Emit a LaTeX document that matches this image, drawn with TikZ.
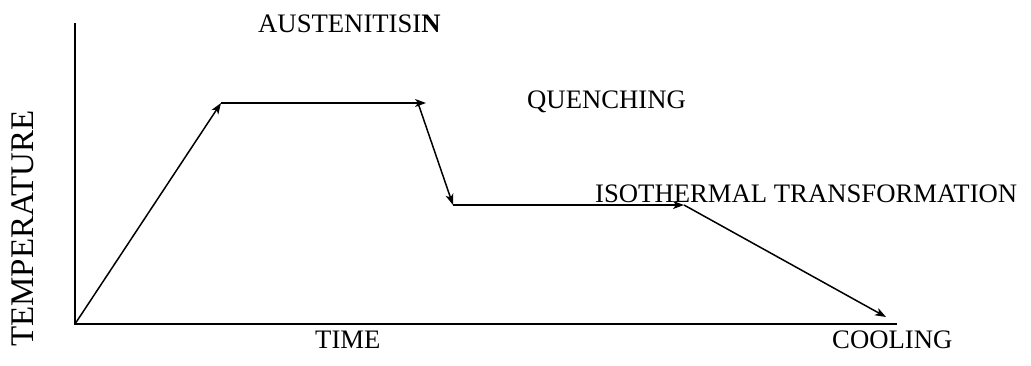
\documentclass[tikz,border=0pt]{standalone}
\usepackage{fontspec}
\setmainfont{Liberation Serif}
\usetikzlibrary{arrows.meta}
\begin{document}
\begin{tikzpicture}[x=1pt,y=-1pt,
  axis/.style={line width=1.6pt},
  seg/.style={line width=1.5pt,-{Stealth[length=11pt,width=8pt,inset=3pt]}},
  lbl/.style={anchor=base west,inner sep=0pt,font=\fontsize{26.7}{30}\selectfont}]
\useasboundingbox (0,0) rectangle (1031,365);
\coordinate (O) at (75,324);
\coordinate (Ytop) at (75,23);
\coordinate (Xend) at (897,324);
\coordinate (A) at (221,103);
\coordinate (B) at (426,103);
\coordinate (B2) at (418,103);
\coordinate (C) at (453,205);
\coordinate (C2) at (453,205);
\coordinate (D) at (684,205);
\coordinate (E) at (886,317);
\draw[axis] (Ytop) -- (O) -- (Xend);
\draw[seg] (O) -- (A);
\draw[seg] (A) -- (B);
\draw[seg] (B2) -- (C);
\draw[seg] (C2) -- (D);
\draw[seg] (D) -- (E);
\node[lbl] (aus) at (258,32) {AUSTENITISI\textbf{N}};
\node[lbl] (que) at (527,108) {QUENCHING};
\node[lbl] (iso) at (595,202) {ISOTHERMAL TRANSFORMATION};
\node[lbl] (time) at (315,348) {TIME};
\node[lbl] (cool) at (832,348) {COOLING};
\node[anchor=base west,inner sep=0pt,rotate=90,font=\fontsize{33}{38}\selectfont] (temp) at (33,347) {TEMPERATURE};
\end{tikzpicture}
\end{document}
